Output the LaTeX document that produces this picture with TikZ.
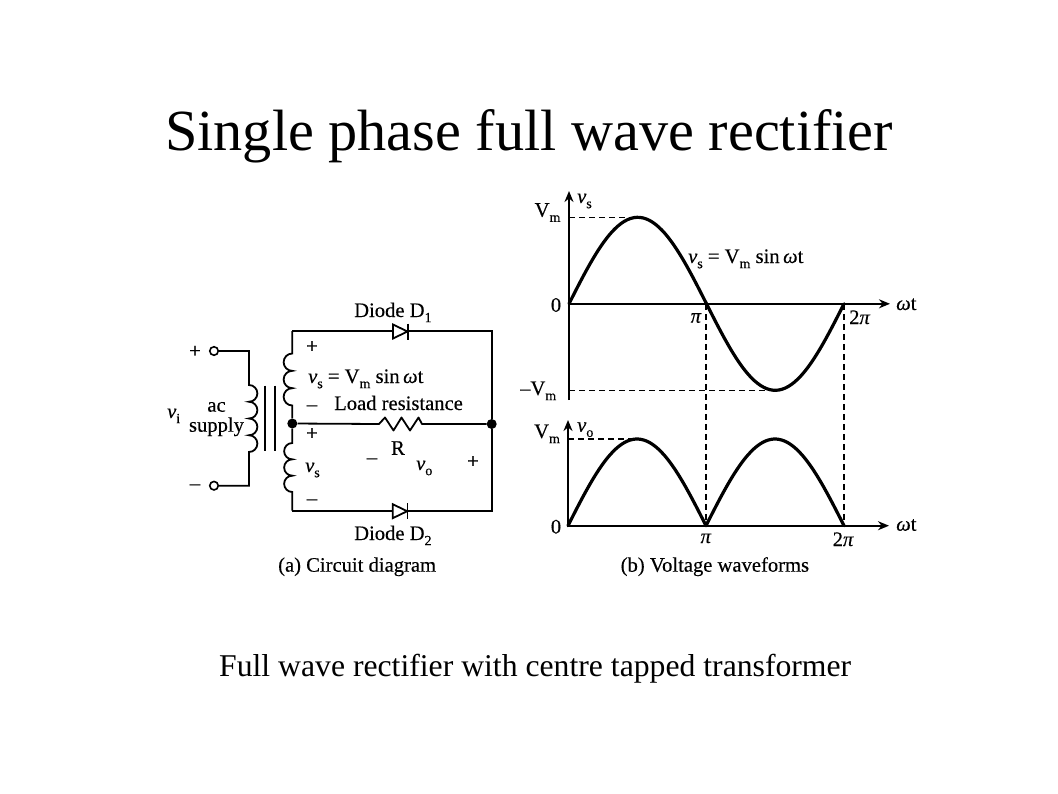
\documentclass[tikz,border=0pt]{standalone}
\usepackage{fontspec}
\setmainfont{Liberation Serif}
\newfontfamily\cf[FakeBold=0.3]{Liberation Serif}
\usetikzlibrary{arrows.meta}
\newcommand{\sz}{\fontsize{20.6}{22}\selectfont\cf}
\newcommand{\iv}{\textit{v}}
\newcommand{\low}[1]{\raisebox{-0.25em}{\fontsize{14}{14}\selectfont #1}}
\newcommand{\eqtext}{\iv\low{s} = V\low{m} sin\,\textit{ω}t}
\tikzset{
  x=1pt,y=-1pt,
  lab/.style={inner sep=0pt,anchor=base west,font=\sz},
  clab/.style={inner sep=0pt,anchor=center,font=\sz},
  wire/.style={line width=1.8pt,line join=miter},
  axisline/.style={line width=2pt,-{Stealth[length=11pt,width=9pt]}},
  guide/.style={line width=1.3pt,dash pattern=on 6pt off 4pt},
  wave/.style={line width=3.2pt,line cap=round,line join=round},
  term/.style={circle,draw,line width=1.6pt,fill=white,minimum size=8.5pt,inner sep=0pt},
  dot/.style={circle,fill=black,minimum size=10pt,inner sep=0pt},
  diodebody/.style={line width=1.8pt,fill=white}
}
\begin{document}
\begin{tikzpicture}
\useasboundingbox (0,0) rectangle (1058,793);
\fill[white] (0,0) rectangle (1058,793);
% titles
\node[inner sep=0pt,anchor=base west,font=\fontsize{58.25}{64}\selectfont] (title) at (165,150) {Single phase full wave rectifier};
\node[inner sep=0pt,anchor=base west,font=\fontsize{31.7}{34}\selectfont] (caption) at (219,676) {Full wave rectifier with centre tapped transformer};

% circuit
\node[term] (tp) at (214,351) {};
\node[term] (tn) at (214,485.7) {};
\node[dot] (nc) at (292.3,423.5) {};
\node[dot] (nr) at (491.7,424) {};
\coordinate (pt) at (249,351);
\coordinate (pc1) at (249,385);
\coordinate (pb) at (249,485.7);
\coordinate (tl) at (292.3,331);
\coordinate (tr) at (491.7,331);
\coordinate (bl) at (292.3,510.7);
\coordinate (br) at (491.7,510.7);
\coordinate (sc1) at (292.3,353.5);
\coordinate (sc3) at (292.3,443);
\coordinate (ra) at (379,424);
\coordinate (rb) at (422,424);
% primary and its coil
\draw[wire] (tp) -- (pt) -- (pc1) arc[start angle=-90,end angle=90,radius=8.375]
  arc[start angle=-90,end angle=90,radius=8.375]
  arc[start angle=-90,end angle=90,radius=8.375]
  arc[start angle=-90,end angle=90,radius=8.375] -- (pb) -- (tn);
% core
\coordinate (c1a) at (265,385.7); \coordinate (c1b) at (265,451);
\coordinate (c2a) at (275,385.7); \coordinate (c2b) at (275,451);
\draw[wire] (c1a) -- (c1b);
\draw[wire] (c2a) -- (c2b);
% secondary
\draw[wire] (tl) -- (sc1) arc[start angle=-90,end angle=-270,radius=8.667]
  arc[start angle=-90,end angle=-270,radius=8.667]
  arc[start angle=-90,end angle=-270,radius=8.667] -- (nc);
\draw[wire] (nc) -- (sc3) arc[start angle=-90,end angle=-270,radius=8.167]
  arc[start angle=-90,end angle=-270,radius=8.167]
  arc[start angle=-90,end angle=-270,radius=8.167] -- (bl);
% loop
\draw[wire] (tl) -- (tr) -- (nr) -- (br) -- (bl);
% load
\draw[wire,line join=round] (nc) -- (ra) -- ++(6,-6.5) -- ++(8.5,13) -- ++(8,-13) -- ++(8.5,13) -- ++(8.5,-13) -- (rb) -- (nr);
% diodes
\coordinate (d1) at (393,331.5); \coordinate (d2) at (392.7,511.2);
\draw[diodebody] (d1) ++(0,-7) -- ++(14.5,7) -- ++(-14.5,7) -- cycle;
\draw[wire] (d1) ++(15,-8) -- ++(0,16);
\draw[diodebody] (d2) ++(0,-7) -- ++(14.5,7) -- ++(-14.5,7) -- cycle;
\draw[wire] (d2) ++(14.8,-8) -- ++(0,16);
% circuit labels
\node[lab] (ld1) at (354,317) {Diode D\low{1}};
\node[lab] (ld2) at (354,540) {Diode D\low{2}};
\node[clab] (p1) at (312,347) {+};
\node[clab] (m1) at (312,408) {–};
\node[clab] (p2) at (312,434) {+};
\node[clab] (m2) at (312,502) {–};
\node[lab] (e1) at (308,383) {\eqtext};
\node[lab] (lr) at (334,410) {Load resistance};
\node[clab] (rr) at (398,448) {R};
\node[clab] (m3) at (372,461) {–};
\node[lab] (vo1) at (416,470) {\iv\low{o}};
\node[clab] (p3) at (473,462) {+};
\node[lab] (vs2) at (305,472) {\iv\low{s}};
\node[clab] (p4) at (195,351.7) {+};
\node[clab] (m4) at (195,487) {–};
\node[lab] (vi) at (167,418) {\iv\low{i}};
\node[lab,anchor=base] (ac) at (216.5,411.7) {ac};
\node[lab,anchor=base] (sup) at (216.5,431.7) {supply};
\node[lab] (capa) at (278,571.7) {(a) Circuit diagram};

% top waveform
\coordinate (o1) at (569,303.8);
\coordinate (ytop) at (569,191);
\coordinate (ybot) at (569,400);
\coordinate (xr) at (890,303.8);
\coordinate (pi1) at (706,303.8);
\coordinate (tp1) at (844,303.8);
\draw[axisline] (ybot) -- (ytop);
\draw[axisline] (o1) -- (xr);
\draw[wave] plot[domain=0:360,samples=90,smooth] ({569+\x/360*275},{303.8-86.5*sin(\x)});
% bottom waveform
\coordinate (o2) at (568,525.7);
\coordinate (ytop2) at (568,420);
\coordinate (xr2) at (889,525.7);
\coordinate (pi2) at (706,525.7);
\coordinate (tp2) at (844,525.7);
\draw[axisline] (o2) -- (ytop2);
\draw[axisline] (o2) -- (xr2);
\draw[wave] plot[domain=0:180,samples=50,smooth] ({568+\x/180*138},{525.7-86.7*sin(\x)});
\draw[wave] plot[domain=0:180,samples=50,smooth] ({706+\x/180*138},{525.7-86.7*sin(\x)});
% guides
\coordinate (g1a) at (569,217.3); \coordinate (g1b) at (637,217.3);
\coordinate (g2a) at (569,390.3); \coordinate (g2b) at (775,390.3);
\coordinate (g3a) at (568,439); \coordinate (g3b) at (636,439);
\draw[guide] (g1a) -- (g1b);
\draw[guide] (g2a) -- (g2b);
\draw[guide] (g3a) -- (g3b);
\draw[guide] (pi1) -- (pi2);
\draw[guide] (tp1) -- (tp2);
% waveform labels
\node[lab] (vs1) at (577,203) {\iv\low{s}};
\node[lab] (vm1) at (534.5,216.7) {V\low{m}};
\node[clab] (z1) at (556,305) {0};
\node[lab] (e2) at (688,263) {\eqtext};
\node[lab] (pi1t) at (690.5,322.7) {\textit{π}};
\node[lab] (tp1t) at (849,324) {2\textit{π}};
\node[lab] (wt1) at (896,310) {\textit{ω}t};
\node[lab] (mvm) at (520,395) {–V\low{m}};
\node[lab] (vm2) at (534,438) {V\low{m}};
\node[lab] (vo2) at (577,431.7) {\iv\low{o}};
\node[clab] (z2) at (556,526.7) {0};
\node[lab,anchor=base] (pi2t) at (706,543) {\textit{π}};
\node[lab] (tp2t) at (832.5,546) {2\textit{π}};
\node[lab] (wt2) at (896,530.7) {\textit{ω}t};
\node[lab] (capb) at (620.5,571.7) {(b) Voltage waveforms};
\end{tikzpicture}
\end{document}
